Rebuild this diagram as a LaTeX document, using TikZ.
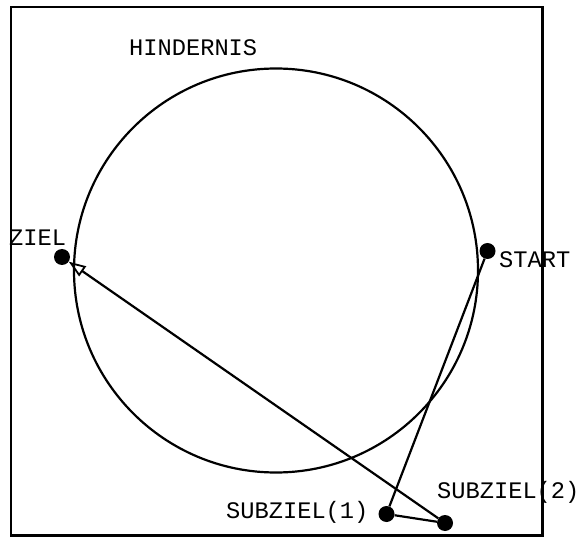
\documentclass[tikz,border=0pt]{standalone}
\usepackage{fontspec}
\setmonofont{Liberation Mono}
\usetikzlibrary{arrows.meta}
\begin{document}
\begin{tikzpicture}[x=1pt,y=-1pt,
  dot/.style={circle,fill=black,draw=none,inner sep=0pt,minimum size=16pt},
  lbl/.style={anchor=base west,inner sep=0pt,font=\ttfamily\fontsize{23.7}{26}\selectfont},
  strong line/.style={line width=2.2pt}]
\useasboundingbox (0,0) rectangle (584,540);
\draw[strong line] (11,7) rectangle (542.5,535.5);
\node[circle,draw,line width=2.2pt,minimum size=404pt,inner sep=0pt] (obst) at (276,270.5) {};
\node[lbl] (lhind) at (129,56) {HINDERNIS};
\node[lbl] (lziel) at (9,246) {ZIEL};
\node[lbl] (lstart) at (499,268) {START};
\node[lbl] (lsub1) at (226,518) {SUBZIEL(1)};
\node[lbl] (lsub2) at (437,498) {SUBZIEL(2)};
\node[dot] (ziel) at (62,257) {};
\node[dot] (start) at (487.5,251) {};
\node[dot] (sub1) at (386.5,514) {};
\node[dot] (sub2) at (445,523) {};
\draw[strong line] (start) -- (sub1) -- (sub2);
\draw[strong line,-{Triangle[open,length=17pt,width=12pt,line width=1.8pt]}] (sub2) -- (ziel);
\end{tikzpicture}
\end{document}
